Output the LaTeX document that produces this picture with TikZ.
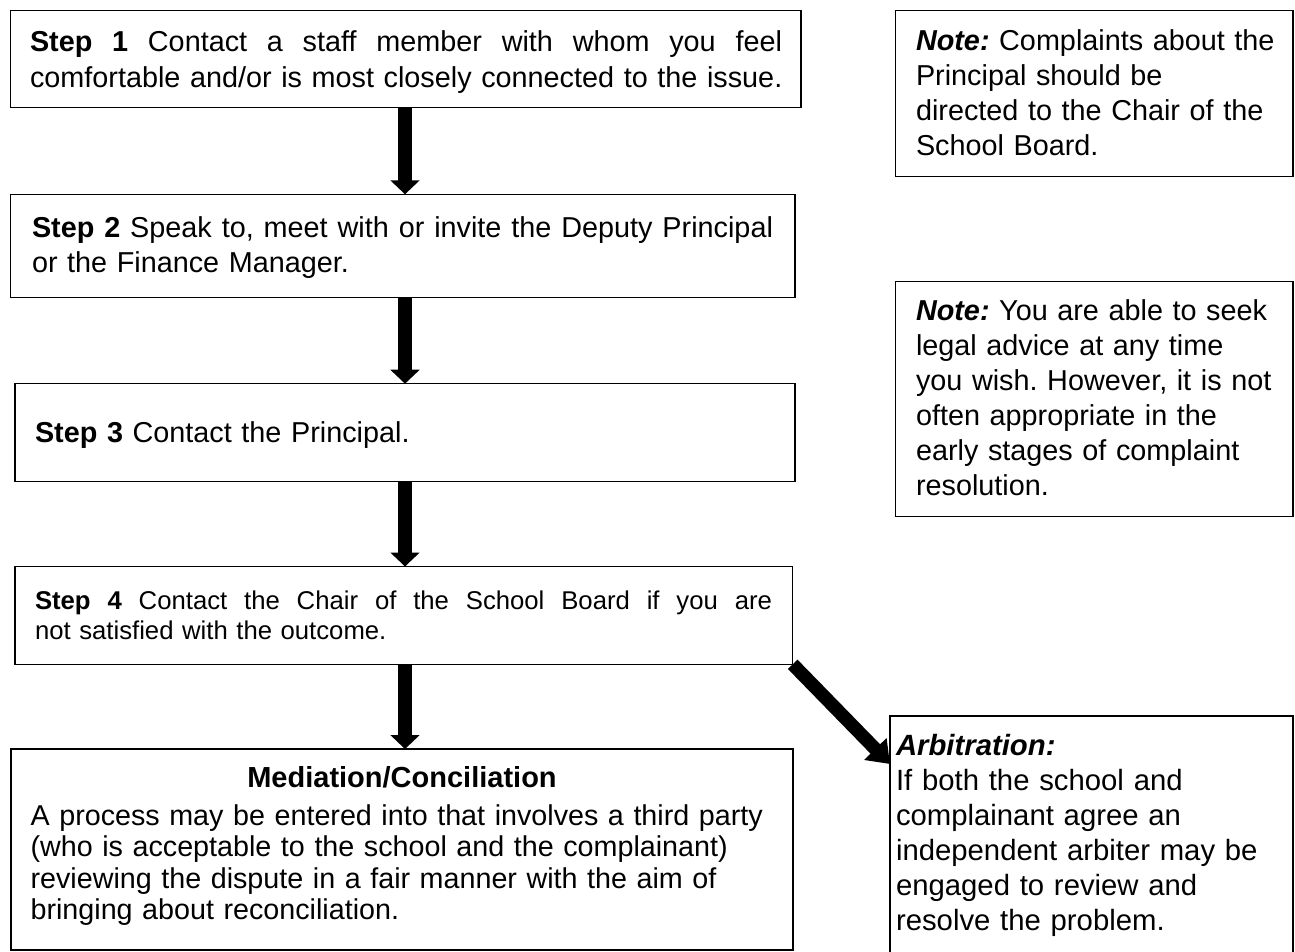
\documentclass[tikz,border=0pt]{standalone}
\usepackage{fontspec}
\setmainfont{Liberation Sans}
\usetikzlibrary{arrows.meta}
\frenchspacing
\newcommand\myjust[2]{\hbox to #1{\spaceskip=0.278em plus 1fil\relax #2}}
\begin{document}
\begin{tikzpicture}[x=1pt,y=-1pt,
  box/.style={draw=black, line width=1.1pt, inner sep=0pt, outer sep=0pt},
  txt/.style={anchor=base west, inner sep=0pt, outer sep=0pt, align=left, text width=800pt},
  big/.style={font=\fontsize{28.8}{35.5}\selectfont},
  flow/.style={line width=13.4pt, draw=black, -{Triangle[width=28.6pt,length=14pt]}},
  ]
\useasboundingbox[fill=white] (0,0) rectangle (1295,951);
\coordinate (axis) at (405,0);
% boxes
\node[box, minimum width=790.5pt, minimum height=97pt]   (s1)  at (405.75,59.2) {};
\node[box, minimum width=784.3pt, minimum height=103.4pt] (s2) at (402.85,246) {};
\node[box, minimum width=780pt, minimum height=97.8pt]   (s3)  at (405,432.6) {};
\node[box, minimum width=777.7pt, minimum height=97.8pt] (s4)  at (403.85,615.4) {};
\node[box, minimum width=782pt, minimum height=201pt]    (med) at (402,849.5) {};
\node[box, minimum width=397.3pt, minimum height=166pt]  (n1)  at (1094.35,93.7) {};
\node[box, minimum width=397.3pt, minimum height=235pt]  (n2)  at (1094.35,399.2) {};
\node[box, minimum width=403pt, minimum height=240pt]    (arb) at (1091.5,836) {};
% texts
\node[txt, big] (t1) at (30,51.7)
  {\myjust{752pt}{\textbf{Step 1} Contact a staff member with whom you feel}\\
   comfortable and/or is most closely connected to the issue.};
\node[txt, big] (t2) at (32,237)
  {\myjust{741pt}{\textbf{Step 2} Speak to, meet with or invite the Deputy Principal}\\
   or the Finance Manager.};
\node[txt, big] (t3) at (35,442.7)
  {\textbf{Step 3} Contact the Principal.};
\node[txt, font=\fontsize{25.7}{30}\selectfont] (t4) at (35,609)
  {\myjust{737pt}{\textbf{Step 4} Contact the Chair of the School Board if you are}\\
   not satisfied with the outcome.};
\node[anchor=base, inner sep=0pt, font=\fontsize{29}{35}\selectfont\bfseries] (medt) at (402,787)
  {Mediation/Conciliation};
\node[txt, font=\fontsize{28.7}{31.5}\selectfont] (medb) at (30.6,825)
  {A process may be entered into that involves a third party\\
   (who is acceptable to the school and the complainant)\\
   reviewing the dispute in a fair manner with the aim of\\
   bringing about reconciliation.};
\node[txt, font=\fontsize{28.8}{35.33}\selectfont] (n1t) at (916,50)
  {\textbf{\textit{Note:}} Complaints about the\\
   Principal should be\\
   directed to the Chair of the\\
   School Board.};
\node[txt, font=\fontsize{28.8}{35}\selectfont] (n2t) at (916,320)
  {\textbf{\textit{Note:}} You are able to seek\\
   legal advice at any time\\
   you wish. However, it is not\\
   often appropriate in the\\
   early stages of complaint\\
   resolution.};
\node[txt, font=\fontsize{29.3}{35}\selectfont] (arbt) at (896,755)
  {\textbf{\textit{Arbitration:}}\\
   If both the school and\\
   complainant agree an\\
   independent arbiter may be\\
   engaged to review and\\
   resolve the problem.};
% connectors
\draw[flow] (s1.south -| axis) -- (s2.north -| axis);
\draw[flow] (s2.south -| axis) -- (s3.north -| axis);
\draw[flow] (s3.south -| axis) -- (s4.north -| axis);
\draw[flow] (s4.south -| axis) -- (med.north -| axis);
\draw[line width=13.4pt, draw=black, -{Triangle[width=30pt,length=21pt]}]
  (s4.south east) -- ([yshift=-48pt]arb.north west);
\end{tikzpicture}
\end{document}
